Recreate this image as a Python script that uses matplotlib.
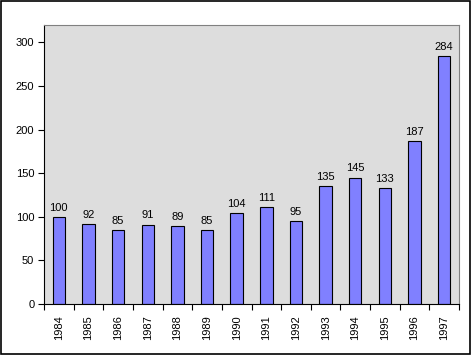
import numpy as np
import matplotlib
matplotlib.use("Agg")
import matplotlib.pyplot as plt
from matplotlib.patches import Rectangle

years = ["1984", "1985", "1986", "1987", "1988", "1989", "1990",
         "1991", "1992", "1993", "1994", "1995", "1996", "1997"]
values = [100, 92, 85, 91, 89, 85, 104, 111, 95, 135, 145, 133, 187, 284]

plt.rcParams['font.family'] = ['Liberation Sans', 'DejaVu Sans']
plt.rcParams['font.size'] = 8

fig = plt.figure(figsize=(4.73, 3.55), dpi=100)
ax = fig.add_axes([44 / 473, 1 - 304 / 355, 415 / 473, 279 / 355])
ax.set_facecolor("#DDDDDD")

x = np.arange(len(years))
bars = ax.bar(x, values, width=0.42, color="#8080FF", edgecolor="black", linewidth=0.8, zorder=2)
for xi, v in zip(x, values):
    ax.annotate(str(v), (xi, v), xytext=(0, 3), textcoords="offset points",
                ha="center", va="bottom", fontsize=8)

ax.set_xlim(-0.5, len(years) - 0.5)
ax.set_ylim(0, 320)
ax.set_yticks(np.arange(0, 301, 50))

# Excel style: tick marks between categories, labels centred
ax.set_xticks(x)
ax.set_xticklabels(years, rotation=90)
ax.set_xticks(np.arange(-0.5, len(years), 1), minor=True)
ax.tick_params(axis="x", which="major", length=0, pad=8)
ax.tick_params(axis="x", which="minor", length=4, width=0.8, direction="out")
ax.tick_params(axis="y", length=4, width=0.8, direction="out", pad=3)

ax.spines["left"].set_color("black")
ax.spines["bottom"].set_color("black")
ax.spines["top"].set_color("#808080")
ax.spines["right"].set_color("#808080")
for s in ax.spines.values():
    s.set_linewidth(0.8)

# frame round the whole chart
fig.patches.append(Rectangle((0.5 / 473, 1 - 354 / 355), 469.5 / 473, 353.5 / 355,
                             transform=fig.transFigure, fill=False,
                             edgecolor="black", linewidth=1.2))

fig.savefig("out.png", dpi=100)
